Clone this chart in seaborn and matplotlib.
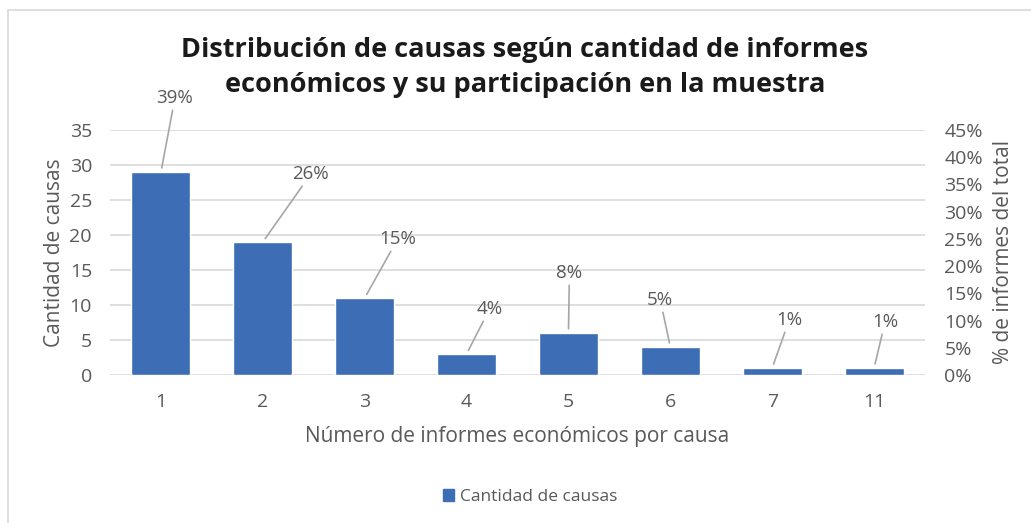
import matplotlib.pyplot as plt
import matplotlib.patches as mpatches
from matplotlib.ticker import MultipleLocator, PercentFormatter
import seaborn as sns
import pandas as pd

# --- Data ---
informes = ["1", "2", "3", "4", "5", "6", "7", "11"]
causas = [29, 19, 11, 3, 6, 4, 1, 1]
pct_informes = [39, 26, 15, 4, 8, 5, 1, 1]

# offset (pixels) of each % label from the top of its bar
label_offsets = [(14, 74), (48, 68), (33, 59), (23, 45), (1, 60), (-10, 47), (17, 48), (11, 46)]

sns.set_theme(style="white")
plt.rcParams['font.family'] = ['Open Sans', 'DejaVu Sans']

gray = "#595959"
grid_gray = "#D9D9D9"
blue = "#3D6DB5"

df = pd.DataFrame({"Informes": informes, "Causas": causas})

W, H = 1031, 523
fig = plt.figure(figsize=(W / 100, H / 100), dpi=100)
ax = fig.add_axes([110 / W, 1 - 375 / H, 815 / W, 245 / H])

sns.barplot(data=df, x="Informes", y="Causas", color=blue, saturation=1,
            width=0.58, ax=ax)

# left axis: counts
ax.set_ylim(0, 35)
ax.yaxis.set_major_locator(MultipleLocator(5))
ax.yaxis.grid(True, color=grid_gray, lw=1.2)
ax.set_axisbelow(True)
for s in ax.spines.values():
    s.set_visible(False)
ax.tick_params(axis="both", length=0, labelsize=14, labelcolor=gray)
ax.tick_params(axis="y", pad=13)
ax.tick_params(axis="x", pad=13)
ax.set_ylabel("Cantidad de causas", fontsize=15, color=gray, labelpad=3.5)
ax.set_xlabel("Número de informes económicos por causa", fontsize=15, color=gray, labelpad=11)

# right axis: share of total
ax2 = ax.twinx()
ax2.set_ylim(0, 0.45)
ax2.yaxis.set_major_locator(MultipleLocator(0.05))
ax2.yaxis.set_major_formatter(PercentFormatter(1.0, decimals=0))
ax2.grid(False)
for s in ax2.spines.values():
    s.set_visible(False)
ax2.tick_params(axis="y", length=0, labelsize=14, labelcolor=gray, pad=14)
ax2.set_ylabel("% de informes del total", fontsize=15, color=gray, labelpad=7)

# percentage labels with leader lines
for i, (n, p) in enumerate(zip(causas, pct_informes)):
    dx, dy = label_offsets[i]
    ax.annotate(f"{p}%", xy=(i, n), xytext=(dx, dy), textcoords="offset pixels",
                ha="center", va="center", fontsize=13.5, color=gray,
                arrowprops=dict(arrowstyle="-", color="#A6A6A6", lw=1.2,
                                shrinkA=0, shrinkB=3))

# title (two lines)
fig.text(525 / W, 1 - 57 / H, "Distribución de causas según cantidad de informes",
         ha="center", va="baseline", fontsize=19.5, fontweight="bold", color="#1A1A1A")
fig.text(525 / W, 1 - 92 / H, "económicos y su participación en la muestra",
         ha="center", va="baseline", fontsize=19.5, fontweight="bold", color="#1A1A1A")

# legend
handle = mpatches.Patch(color=blue, label="Cantidad de causas")
fig.legend(handles=[handle], loc="center", bbox_to_anchor=(530 / W, 1 - 497 / H),
           frameon=False, fontsize=12.5, handlelength=0.65, handleheight=0.65,
           handletextpad=0.3, labelcolor=gray)

# chart frame
fig.patches.append(mpatches.Rectangle((8 / W, -0.1), 1.2, 1 - 10 / H + 0.1,
                                      transform=fig.transFigure, fill=False,
                                      edgecolor=grid_gray, lw=1.2))

fig.savefig("out.png", dpi=100)
